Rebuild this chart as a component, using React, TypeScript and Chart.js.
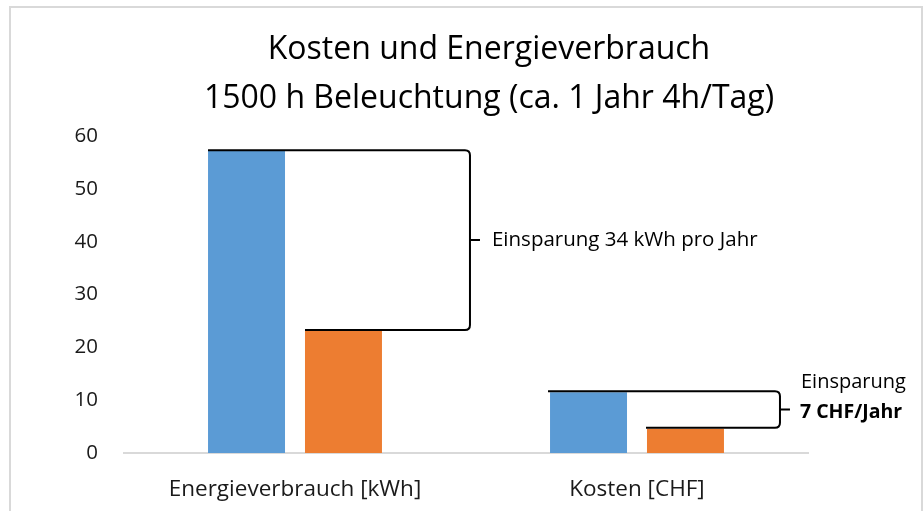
import React, { useEffect, useRef } from "react";
import { Chart, registerables } from "chart.js";

Chart.register(...registerables);

const categories = ["Energieverbrauch [kWh]", "Kosten [CHF]"];
const seriesBlue = [57.3, 11.5];
const seriesOrange = [23.3, 4.6];
const titleLines = ["Kosten und Energieverbrauch", "1500 h Beleuchtung (ca. 1 Jahr 4h/Tag)"];
const yTicks = { min: 0, max: 60, step: 10 };
const noteEnergy = "Einsparung 34 kWh pro Jahr";
const noteCostLines = ["Einsparung", "7 CHF/Jahr"];

const FONT = "'Open Sans', Lato, sans-serif";

function drawBracket(ctx: CanvasRenderingContext2D, xTop: number, yTop: number, xBot: number, yBot: number, bx: number) {
  const r = 5;
  const mid = (yTop + yBot) / 2;
  ctx.beginPath();
  ctx.moveTo(xTop, yTop);
  ctx.lineTo(bx - r, yTop);
  ctx.quadraticCurveTo(bx, yTop, bx, yTop + r);
  ctx.lineTo(bx, yBot - r);
  ctx.quadraticCurveTo(bx, yBot, bx - r, yBot);
  ctx.lineTo(xBot, yBot);
  ctx.moveTo(bx, mid);
  ctx.lineTo(bx + 10, mid);
  ctx.stroke();
}

const annotPlugin = {
  id: "annot",
  afterDraw(chart: any) {
    const ctx = chart.ctx as CanvasRenderingContext2D;
    const y = chart.scales.y;
    const mB = chart.getDatasetMeta(0).data;
    const mO = chart.getDatasetMeta(1).data;
    ctx.save();
    // title
    ctx.fillStyle = "#000";
    ctx.textAlign = "center";
    ctx.textBaseline = "middle";
    ctx.font = `32px ${FONT}`;
    ctx.fillText(titleLines[0], 489, 50);
    ctx.fillText(titleLines[1], 489, 99);

    ctx.strokeStyle = "#000";
    ctx.lineWidth = 2;
    // energy bracket
    const b0 = mB[0], o0 = mO[0];
    const bx0 = o0.x + o0.width / 2 + 88;
    drawBracket(ctx, b0.x - b0.width / 2, y.getPixelForValue(seriesBlue[0]), o0.x - o0.width / 2, y.getPixelForValue(seriesOrange[0]), bx0);
    const mid0 = (y.getPixelForValue(seriesBlue[0]) + y.getPixelForValue(seriesOrange[0])) / 2;
    ctx.textAlign = "left";
    ctx.font = `20.5px ${FONT}`;
    ctx.fillText(noteEnergy, bx0 + 22, mid0);

    // cost bracket
    const b1 = mB[1], o1 = mO[1];
    const bx1 = o1.x + o1.width / 2 + 56;
    const yT = y.getPixelForValue(seriesBlue[1]) - 1;
    const yB = y.getPixelForValue(seriesOrange[1]) - 1;
    drawBracket(ctx, b1.x - b1.width / 2 - 2, yT, o1.x - o1.width / 2 - 1, yB, bx1);
    ctx.font = `20px ${FONT}`;
    ctx.fillText(noteCostLines[0], bx1 + 21, yT - 9);
    ctx.font = `bold 19.5px ${FONT}`;
    ctx.fillText(noteCostLines[1], bx1 + 20, (yT + yB) / 2 + 3);
    ctx.restore();
  },
};

export default function App() {
  const ref = useRef<HTMLCanvasElement>(null);
  useEffect(() => {
    if (!ref.current) return;
    const chart = new Chart(ref.current, {
      type: "bar",
      data: {
        labels: categories,
        datasets: [
          { label: "A", data: seriesBlue, backgroundColor: "#5B9BD5", categoryPercentage: 0.567, barPercentage: 0.794 },
          { label: "B", data: seriesOrange, backgroundColor: "#ED7D31", categoryPercentage: 0.567, barPercentage: 0.794 },
        ],
      },
      options: {
        responsive: false,
        animation: false,
        layout: { padding: { top: 136, left: 0, right: 115, bottom: 0 } },
        plugins: { legend: { display: false }, title: { display: false }, tooltip: { enabled: false } },
        scales: {
          x: {
            grid: { display: false, drawTicks: false },
            border: { display: true, color: "#d9d9d9", width: 2 },
            ticks: { color: "#1a1a1a", font: { family: FONT, size: 22.5 }, padding: 23 },
            afterFit: (s: any) => { s.height = 58; },
          },
          y: {
            min: yTicks.min,
            max: yTicks.max,
            grid: { display: false, drawTicks: false },
            border: { display: false },
            ticks: { stepSize: yTicks.step, color: "#1a1a1a", font: { family: FONT, size: 20.5 }, padding: 26 },
            afterFit: (s: any) => { s.width = 124; },
          },
        },
      },
      plugins: [annotPlugin],
    });
    return () => chart.destroy();
  }, []);
  return (
    <div style={{ position: "absolute", left: 0, top: 0, width: 923, height: 511, background: "#fff" }}>
      <div style={{ position: "absolute", left: 9, top: 6, width: 910, height: 510, borderTop: "2px solid #d9d9d9", borderLeft: "2px solid #d9d9d9", borderRight: "2px solid #d9d9d9" }} />
      <canvas ref={ref} width={923} height={511} style={{ position: "absolute", left: 0, top: 0 }} />
    </div>
  );
}
